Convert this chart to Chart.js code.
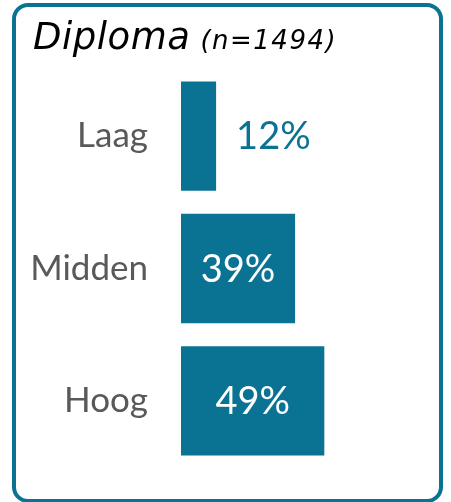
<!DOCTYPE html>
<html>
<head>
<meta charset="utf-8">
<script src="https://cdn.jsdelivr.net/npm/chart.js@4"></script>
<style>
  html, body { margin: 0; padding: 0; background: #fff; }
  #wrap { position: relative; width: 451px; height: 502px; overflow: hidden; }
  #frame {
    position: absolute; left: 12px; top: 3px; width: 431px; height: 500px;
    box-sizing: border-box; border: 4.5px solid #0a7394; border-radius: 16px;
    pointer-events: none;
  }
  #title {
    position: absolute; left: 33px; top: 15px; white-space: nowrap;
    font-family: "DejaVu Sans", sans-serif; font-style: italic; color: #000;
  }
  #title .main { font-size: 37px; letter-spacing: 0.5px; }
  #title .sub { font-size: 26px; margin-left: 10px; letter-spacing: 1.5px; }
  canvas { position: absolute; left: 0; top: 0; }
</style>
</head>
<body>
<div id="wrap">
  <canvas id="chart" width="451" height="502"></canvas>
  <div id="frame"></div>
  <div id="title"><span class="main">Diploma</span><span class="sub">(n=1494)</span></div>
</div>
<script>
const categories = ['Laag', 'Midden', 'Hoog'];
const percentages = [12, 39, 49];

const barColor = '#0a7394';

// value labels: inside the bar in white, outside in teal when the bar is short
const valueLabels = {
  id: 'valueLabels',
  afterDatasetsDraw(chart) {
    const ctx = chart.ctx;
    const meta = chart.getDatasetMeta(0);
    ctx.save();
    ctx.font = '38px Lato';
    ctx.textBaseline = 'middle';
    meta.data.forEach((bar, i) => {
      const text = percentages[i] + '%';
      const w = bar.x - bar.base;
      if (w > ctx.measureText(text).width + 20) {
        ctx.fillStyle = '#ffffff';
        ctx.textAlign = 'center';
        ctx.fillText(text, (bar.x + bar.base) / 2, bar.y + 1);
      } else {
        ctx.fillStyle = barColor;
        ctx.textAlign = 'left';
        ctx.fillText(text, bar.x + 20, bar.y + 1);
      }
    });
    ctx.restore();
  },
};

const chart = new Chart(document.getElementById('chart'), {
  type: 'bar',
  data: {
    labels: categories,
    datasets: [
      {
        data: percentages,
        backgroundColor: barColor,
        barPercentage: 0.826,
        categoryPercentage: 1,
      },
    ],
  },
  options: {
    indexAxis: 'y',
    responsive: false,
    animation: false,
    devicePixelRatio: 1,
    layout: {
      padding: { left: 0, right: 36, top: 70, bottom: 35 },
    },
    plugins: {
      legend: { display: false },
      tooltip: { enabled: false },
    },
    scales: {
      x: {
        display: false,
        min: 0,
        max: 80,
      },
      y: {
        afterFit(scale) {
          scale.width = 181;
          // tick padding is meant for the horizontal gap only
          scale.paddingTop = 0;
          scale.paddingBottom = 0;
        },
        grid: { display: false, drawTicks: false },
        border: { display: false },
        ticks: {
          color: '#595959',
          padding: 33,
          font: { family: 'Lato', size: 35 },
        },
      },
    },
  },
  plugins: [valueLabels],
});
</script>
</body>
</html>
